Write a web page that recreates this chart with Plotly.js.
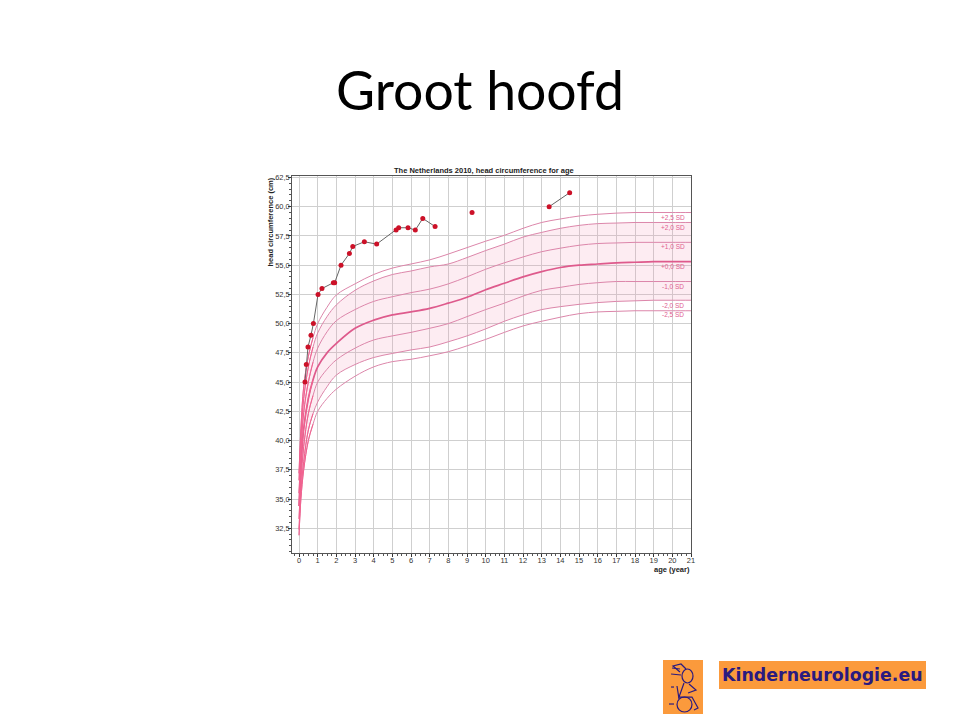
<!DOCTYPE html>
<html><head><meta charset="utf-8">
<script src="https://cdn.plot.ly/plotly-3.0.1.min.js"></script>
<style>html,body{margin:0;padding:0;background:#fff}#c{width:960px;height:720px}</style>
</head><body><div id="c"></div>
<script>
const ages=[0,0.1,0.25,0.5,0.75,1,1.5,2,3,4,5,6,7,8,9,10,11,12,13,14,15,16,17,18,19,20,21];
const sdP25=[37.2,41.0,44.6,47.2,48.8,50.0,51.4,52.45,53.4,54.2,54.75,55.1,55.45,55.95,56.5,57.05,57.55,58.15,58.65,58.95,59.2,59.35,59.45,59.5,59.5,59.5,59.5];
const sdP20=[36.6,40.2,43.6,46.3,48.0,49.2,50.6,51.6,52.85,53.65,54.2,54.5,54.85,55.1,55.65,56.25,56.8,57.4,57.8,58.15,58.4,58.55,58.6,58.65,58.65,58.65,58.65];
const sdP10=[35.5,39.0,42.4,45.0,46.7,47.9,49.3,50.25,51.2,51.9,52.3,52.65,52.95,53.4,54.0,54.65,55.2,55.7,56.15,56.45,56.7,56.85,56.9,56.95,56.95,56.95,56.95];
const sd0=[34.4,37.8,41.0,43.6,45.2,46.3,47.5,48.3,49.6,50.3,50.75,51.0,51.3,51.75,52.25,52.9,53.45,54.0,54.45,54.8,55.0,55.1,55.2,55.25,55.3,55.3,55.3];
const sdM10=[33.3,36.5,39.5,42.3,43.85,45.0,46.1,46.9,47.9,48.6,48.95,49.25,49.6,50.0,50.6,51.2,51.75,52.35,52.85,53.1,53.35,53.5,53.6,53.6,53.6,53.6,53.6];
const sdM20=[32.4,35.6,38.2,40.9,42.3,43.3,44.6,45.6,46.5,47.1,47.45,47.75,48.0,48.45,48.95,49.55,50.2,50.75,51.2,51.45,51.65,51.8,51.9,51.95,52,52,52];
const sdM25=[31.9,35.0,37.5,40.0,41.4,42.5,43.6,44.4,45.5,46.3,46.75,46.95,47.25,47.6,48.1,48.65,49.25,49.8,50.2,50.55,50.85,51.0,51.05,51.1,51.1,51.1,51.1];
const patientAges=[0.32,0.39,0.48,0.64,0.77,1.02,1.23,1.84,1.91,2.25,2.7,2.88,3.5,4.16,5.2,5.34,5.84,6.23,6.63,7.29];
const patientHead=[45,46.5,48,49,50,52.5,53,53.5,53.5,55,56,56.6,57,56.8,58,58.2,58.2,58,59,58.3];
const singleAge=[9.27],singleHead=[59.5];
const lateAges=[13.4,14.5],lateHead=[60,61.2];
const yTicks=[32.5,35,37.5,40,42.5,45,47.5,50,52.5,55,57.5,60,62.5];
const yLabels=['32,5','35,0','37,5','40,0','42,5','45,0','47,5','50,0','52,5','55,0','57,5','60,0','62,5'];
const xTicks=[0,1,2,3,4,5,6,7,8,9,10,11,12,13,14,15,16,17,18,19,20,21];
const sdLabels=['+2,5 SD','+2,0 SD','+1,0 SD','+0,0 SD','-1,0 SD','-2,0 SD','-2,5 SD'];
const sdLabelY=[59.08,58.23,56.56,54.85,53.18,51.56,50.75];

const W=960,H=720;
const pk='#dc86aa';
function sdTrace(x,y,color,width,extra){
  return Object.assign({x:x,y:y,mode:'lines',type:'scatter',hoverinfo:'skip',showlegend:false,
    line:{color:color,width:width,shape:'spline',smoothing:1}},extra||{});
}
const traces=[
  sdTrace(ages,sdP25,pk,1),
  sdTrace(ages,sdM20,pk,1),
  sdTrace(ages,sdP20,pk,1,{fill:'tonexty',fillcolor:'rgba(245,140,175,0.17)'}),
  sdTrace(ages,sdP10,pk,1),
  sdTrace(ages,sdM10,pk,1),
  sdTrace(ages,sdM25,pk,1),
  sdTrace(ages,sd0,'#de5a8c',1.7),
];
[sdP25,sdP20,sdP10,sd0,sdM10,sdM20,sdM25].forEach(s=>{
  traces.push(sdTrace(ages.slice(0,5),s.slice(0,5),'#f2628f',1));
});
const dot={color:'#cc1128',size:5};
const gl={color:'#666',width:1};
traces.push({x:patientAges,y:patientHead,mode:'lines+markers',type:'scatter',line:gl,marker:dot,showlegend:false});
traces.push({x:singleAge,y:singleHead,mode:'markers',type:'scatter',marker:dot,showlegend:false});
traces.push({x:lateAges,y:lateHead,mode:'lines+markers',type:'scatter',line:gl,marker:dot,showlegend:false});

const tf={family:'Liberation Sans, Arial, sans-serif',size:7.5,color:'#333'};
const annotations=sdLabels.map((t,i)=>({x:20.03,y:sdLabelY[i],xref:'x',yref:'y',text:t,showarrow:false,
  font:{family:'Liberation Sans, Arial, sans-serif',size:6.5,color:'#e0608f'}}));
function pa(px,py,text,font,extra){
  return Object.assign({x:px/W,y:1-py/H,xref:'paper',yref:'paper',xanchor:'center',yanchor:'middle',text:text,showarrow:false,font:font},extra||{});
}
const bold={family:'Liberation Sans, Arial, sans-serif',size:7.5,color:'#222'};
annotations.push(pa(484,170.5,'<b>The Netherlands 2010, head circumference for age</b>',bold));
annotations.push(pa(269.5,222,'<b>head circumference (cm)</b>',bold,{textangle:-90}));
annotations.push(pa(672,569.5,'<b>age (year)</b>',bold));
annotations.push(pa(822.5,675,'<b>Kinderneurologie.eu</b>',{family:'DejaVu Sans, sans-serif',size:17.4,color:'#2a1a80'}));

// logo artwork, in page pixels
function X(p){return p/W}
function Y(p){return 1-p/H}
function path(pts){return pts.map((p,i)=>(i?'L':'M')+X(p[0]).toFixed(4)+','+Y(p[1]).toFixed(4)).join(' ')}
const navy={color:'#2a1a80',width:1.2};
const shapes=[
  {type:'rect',xref:'paper',yref:'paper',x0:X(663),x1:X(703),y0:Y(714),y1:Y(660),fillcolor:'#fb9a3c',line:{width:0},layer:'below'},
  {type:'rect',xref:'paper',yref:'paper',x0:X(719),x1:X(926),y0:Y(689),y1:Y(661),fillcolor:'#fb9a3c',line:{width:0},layer:'below'},
  {type:'circle',xref:'paper',yref:'paper',x0:X(677),x1:X(692),y0:Y(712),y1:Y(697),line:navy},
  {type:'circle',xref:'paper',yref:'paper',x0:X(682),x1:X(693),y0:Y(683),y1:Y(669),line:navy},
  {type:'path',xref:'paper',yref:'paper',path:path([[680,672],[673,666],[681,664],[686,669]]),line:navy},
  {type:'path',xref:'paper',yref:'paper',path:path([[672,668],[680,669]]),line:navy},
  {type:'path',xref:'paper',yref:'paper',path:path([[671,674],[681,675]]),line:navy},
  {type:'path',xref:'paper',yref:'paper',path:path([[684,683],[679,697],[692,697],[698,708],[694,710]]),line:navy},
  {type:'path',xref:'paper',yref:'paper',path:path([[689,684],[696,690],[688,693]]),line:navy},
  {type:'path',xref:'paper',yref:'paper',path:path([[677,686],[679,699]]),line:navy},
  {type:'path',xref:'paper',yref:'paper',path:path([[671,687],[674,687]]),line:navy},
  {type:'path',xref:'paper',yref:'paper',path:path([[669,704],[674,704]]),line:navy},
];

const layout={
  width:W,height:H,margin:{l:0,r:0,t:0,b:0},paper_bgcolor:'#fff',plot_bgcolor:'#fff',showlegend:false,
  title:{text:'Groot hoofd',x:480/W,xanchor:'center',y:1-91/H,yanchor:'middle',
    font:{family:'Lato, sans-serif',size:53.5,color:'#000'}},
  xaxis:{domain:[292.3/W,691/W],range:[-0.36,21],tickmode:'array',tickvals:xTicks,ticktext:xTicks.map(String),
    showgrid:true,gridcolor:'#cfcfcf',gridwidth:1,zeroline:false,showline:true,linecolor:'#555',linewidth:1,mirror:true,
    ticks:'outside',ticklen:3,tickcolor:'#333',tickfont:tf,ticklabelstandoff:-3,
    minor:{dtick:0.25,ticks:'outside',ticklen:2,tickcolor:'#555',showgrid:false}},
  yaxis:{domain:[1-552.7/H,1-175.7/H],range:[30.41,62.65],tickmode:'array',tickvals:yTicks,ticktext:yLabels,
    showgrid:true,gridcolor:'#cfcfcf',gridwidth:1,zeroline:false,showline:true,linecolor:'#555',linewidth:1,mirror:true,
    ticks:'outside',ticklen:3,tickcolor:'#333',tickfont:tf,ticklabelstandoff:-3,
    minor:{dtick:0.5,ticks:'outside',ticklen:2,tickcolor:'#555',showgrid:false}},
  annotations:annotations,shapes:shapes
};
Plotly.newPlot('c',traces,layout,{displayModeBar:false,staticPlot:true});
</script></body></html>
